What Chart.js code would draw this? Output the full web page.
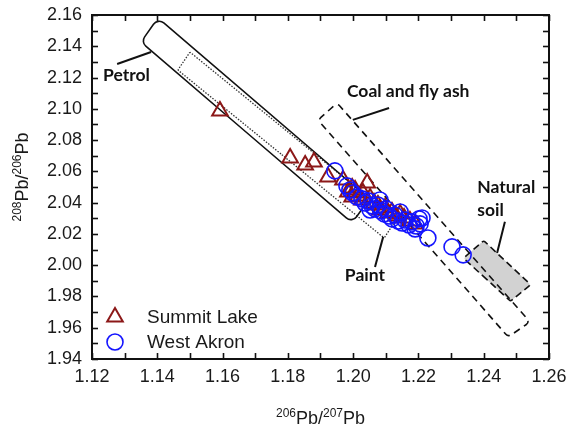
<!DOCTYPE html>
<html><head><meta charset="utf-8">
<script src="https://cdn.jsdelivr.net/npm/chart.js@4.4.1/dist/chart.umd.min.js"></script>
<style>html,body{margin:0;padding:0;background:#fff;}canvas{display:block;}</style>
</head><body>
<canvas id="c" width="569" height="430"></canvas>
<script>
// ---- data ----
const xTickValues = [1.12, 1.14, 1.16, 1.18, 1.20, 1.22, 1.24, 1.26];
const xTickLabels = ['1.12', '1.14', '1.16', '1.18', '1.20', '1.22', '1.24', '1.26'];
const yTickValues = [1.94, 1.96, 1.98, 2.00, 2.02, 2.04, 2.06, 2.08, 2.10, 2.12, 2.14, 2.16];
const yTickLabels = ['1.94', '1.96', '1.98', '2.00', '2.02', '2.04', '2.06', '2.08', '2.10', '2.12', '2.14', '2.16'];

const seriesNames = ['Summit Lake', 'West Akron'];

const summitLakeX = [1.1592, 1.1807, 1.1853, 1.1880, 1.1923, 1.1969, 1.2006, 1.2043, 1.2030, 1.1984, 1.1997, 1.2015, 1.2027,
  1.2052, 1.2064, 1.2076, 1.2082, 1.2098, 1.2107, 1.2119, 1.2131, 1.2144, 1.2156, 1.2174, 1.2190, 1.1997];
const summitLakeY = [2.0986, 2.0686, 2.0641, 2.0660, 2.0564, 2.0545, 2.0481, 2.0526, 2.0462, 2.0468, 2.0436, 2.0443, 2.0417,
  2.0430, 2.0398, 2.0385, 2.0353, 2.0366, 2.0334, 2.0340, 2.0315, 2.0328, 2.0302, 2.0283, 2.0264, 2.0494];

const westAkronX = [1.1944, 1.1981, 1.1990, 1.1999, 1.2012, 1.2027, 1.2036, 1.2046, 1.2058, 1.2067, 1.2076, 1.2085, 1.2095,
  1.2101, 1.2110, 1.2119, 1.2128, 1.2138, 1.2150, 1.2159, 1.2171, 1.2180, 1.2193, 1.2202, 1.2211, 1.2205, 1.2190, 1.2229,
  1.2303, 1.2337, 1.2052, 1.2082, 1.2144];
const westAkronY = [2.0603, 2.0507, 2.0481, 2.0462, 2.0436, 2.0424, 2.0398, 2.0411, 2.0379, 2.0360, 2.0385, 2.0347, 2.0328,
  2.0360, 2.0315, 2.0296, 2.0321, 2.0283, 2.0270, 2.0289, 2.0257, 2.0277, 2.0251, 2.0296, 2.0302, 2.0264, 2.0232, 2.0174,
  2.0117, 2.0066, 2.0353, 2.0417, 2.0340];

// source fields (corners in data units)
const petrolBox = [[1.1350, 2.1427], [1.1402, 2.1581], [1.2049, 2.0424], [1.1997, 2.0270]];
const paintBox = [[1.1463, 2.1248], [1.1500, 2.1363], [1.2131, 2.0289], [1.2095, 2.0174]];
const coalBox = [[1.1892, 2.0929], [1.1951, 2.1037], [1.2542, 1.9637], [1.2475, 1.9541]];
const soilBox = [[1.2338, 2.0045], [1.2400, 2.0157], [1.2544, 1.9875], [1.2482, 1.9770]];

const petrolLeader = [[1.1277, 2.1287], [1.1381, 2.1363]];
const coalLeader = [[1.1999, 2.0929], [1.2110, 2.1005]];
const paintLeader = [[1.2092, 2.0181], [1.2067, 1.9989]];
const soilLeader = [[1.2465, 2.0277], [1.2441, 2.0078]];

const fieldLabels = [
  { text: 'Petrol', at: [1.1234, 2.1216], align: 'left' },
  { text: 'Coal and fly ash', at: [1.1981, 2.1114], align: 'left' },
  { text: 'Paint', at: [1.2036, 1.9938], align: 'center' },
  { text: 'Natural', at: [1.2380, 2.0500], align: 'left' },
  { text: 'soil', at: [1.2380, 2.0353], align: 'left' }
];

// ---- styling ----
const RED = 'rgb(140,24,24)';
const BLUE = 'rgb(20,20,255)';

const toPts = (xs, ys) => xs.map((x, i) => ({ x: x, y: ys[i] }));

function px(chart, p) {
  return [chart.scales.x.getPixelForValue(p[0]), chart.scales.y.getPixelForValue(p[1])];
}
function roundPoly(ctx, pts, r) {
  const n = pts.length;
  ctx.beginPath();
  ctx.moveTo((pts[n - 1][0] + pts[0][0]) / 2, (pts[n - 1][1] + pts[0][1]) / 2);
  for (let i = 0; i < n; i++) {
    const p = pts[i], q = pts[(i + 1) % n];
    ctx.arcTo(p[0], p[1], q[0], q[1], r);
  }
  ctx.closePath();
}
function line(ctx, a, b) {
  ctx.beginPath(); ctx.moveTo(a[0], a[1]); ctx.lineTo(b[0], b[1]); ctx.stroke();
}
function supText(ctx, parts, cx, cy, big, small) {
  let w = 0;
  parts.forEach(p => {
    ctx.font = (p.sup ? small : big) + 'px "Liberation Sans", Arial, sans-serif';
    p.w = ctx.measureText(p.t).width; w += p.w;
  });
  let x = cx - w / 2;
  ctx.textAlign = 'left';
  ctx.textBaseline = 'alphabetic';
  parts.forEach(p => {
    ctx.font = (p.sup ? small : big) + 'px "Liberation Sans", Arial, sans-serif';
    ctx.fillText(p.t, x, cy + big * 0.36 - (p.sup ? big * 0.42 : 0));
    x += p.w;
  });
}

const decor = {
  id: 'decor',
  beforeDatasetsDraw(chart) {
    const ctx = chart.ctx;
    ctx.save();
    // natural soil
    const s = soilBox.map(p => px(chart, p));
    roundPoly(ctx, s, 2);
    ctx.fillStyle = '#d2d2d2'; ctx.fill();
    ctx.setLineDash([7, 4]); ctx.lineWidth = 1.6; ctx.strokeStyle = '#111'; ctx.stroke();
    // coal
    const c = coalBox.map(p => px(chart, p));
    roundPoly(ctx, c, 4);
    ctx.setLineDash([7, 5]); ctx.lineWidth = 1.6; ctx.stroke();
    // paint
    const pa = paintBox.map(p => px(chart, p));
    roundPoly(ctx, pa, 1);
    ctx.setLineDash([1.5, 1.5]); ctx.lineWidth = 1.3; ctx.strokeStyle = '#333'; ctx.stroke();
    // petrol
    const pe = petrolBox.map(p => px(chart, p));
    roundPoly(ctx, pe, 7);
    ctx.setLineDash([]); ctx.lineWidth = 1.6; ctx.strokeStyle = '#111'; ctx.stroke();
    // leaders
    ctx.lineWidth = 2;
    [petrolLeader, coalLeader, paintLeader, soilLeader].forEach(l => line(ctx, px(chart, l[0]), px(chart, l[1])));
    // labels
    ctx.fillStyle = '#111';
    ctx.font = 'bold 17.5px Lato, "Open Sans", sans-serif';
    ctx.textBaseline = 'middle';
    fieldLabels.forEach(f => {
      const p = px(chart, f.at);
      ctx.textAlign = f.align;
      ctx.fillText(f.text, p[0], p[1]);
    });
    ctx.restore();
  },
  afterDraw(chart) {
    const ctx = chart.ctx, a = chart.chartArea;
    const xs = chart.scales.x, ys = chart.scales.y;
    ctx.save();
    ctx.strokeStyle = '#111';
    ctx.lineWidth = 1.6;
    // ticks (inward, all four sides, every 0.01)
    for (let i = 112; i <= 126; i++) {
      const x = Math.round(xs.getPixelForValue(i / 100)) + 0.5;
      line(ctx, [x, a.bottom], [x, a.bottom - 6]);
      line(ctx, [x, a.top], [x, a.top + 6]);
    }
    for (let i = 194; i <= 216; i++) {
      const y = Math.round(ys.getPixelForValue(i / 100)) + 0.5;
      line(ctx, [a.left, y], [a.left + 6, y]);
      line(ctx, [a.right, y], [a.right - 6, y]);
    }
    ctx.lineWidth = 2;
    ctx.strokeRect(a.left, a.top, a.right - a.left, a.bottom - a.top);
    // axis titles
    ctx.fillStyle = '#1a1a1a';
    supText(ctx, [{ t: '206', sup: true }, { t: 'Pb/' }, { t: '207', sup: true }, { t: 'Pb' }], (a.left + a.right) / 2, 418, 18, 12);
    ctx.save();
    ctx.translate(22, 177);
    ctx.rotate(-Math.PI / 2);
    supText(ctx, [{ t: '208', sup: true }, { t: 'Pb/' }, { t: '206', sup: true }, { t: 'Pb' }], 0, 0, 18, 12);
    ctx.restore();
    // legend
    const ds = chart.data.datasets;
    const rows = [[115, 317], [115, 342]];
    ds.forEach((d) => {
      const [lx, ly] = rows[d.legendRow];
      ctx.strokeStyle = d.borderColor; ctx.lineWidth = d.borderWidth;
      ctx.beginPath();
      if (d.pointStyle === 'triangle') {
        const r = d.pointRadius;
        ctx.moveTo(lx, ly - r); ctx.lineTo(lx + r * 0.866, ly + r * 0.5); ctx.lineTo(lx - r * 0.866, ly + r * 0.5); ctx.closePath();
      } else {
        ctx.arc(lx, ly, d.pointRadius, 0, Math.PI * 2);
      }
      ctx.stroke();
      ctx.fillStyle = '#1a1a1a';
      ctx.font = '19px "Liberation Sans", Arial, sans-serif';
      ctx.textAlign = 'left'; ctx.textBaseline = 'middle';
      ctx.fillText(d.label, 147, ly + 1);
    });
    ctx.restore();
  }
};

const hiddenGrid = (len) => ({ display: true, drawOnChartArea: false, drawTicks: true, tickLength: len, color: 'rgba(0,0,0,0)' });

new Chart(document.getElementById('c'), {
  type: 'scatter',
  data: {
    datasets: [
      { label: seriesNames[0], data: toPts(summitLakeX, summitLakeY), pointStyle: 'triangle', pointRadius: 9,
        borderColor: RED, backgroundColor: 'rgba(0,0,0,0)', borderWidth: 2, order: 2, legendRow: 0 },
      { label: seriesNames[1], data: toPts(westAkronX, westAkronY), pointStyle: 'circle', pointRadius: 8,
        borderColor: BLUE, backgroundColor: 'rgba(0,0,0,0)', borderWidth: 1.6, order: 1, legendRow: 1 }
    ]
  },
  options: {
    responsive: false,
    animation: false,
    devicePixelRatio: 1,
    layout: { padding: { top: 15, right: 20, left: 0, bottom: 0 } },
    plugins: { legend: { display: false }, tooltip: { enabled: false } },
    scales: {
      x: {
        type: 'linear', min: 1.12, max: 1.26,
        afterBuildTicks: s => { s.ticks = xTickValues.map(v => ({ value: v })); },
        ticks: { callback: (v, i) => xTickLabels[i], font: { family: '"Liberation Sans", Arial', size: 18 }, color: '#1a1a1a', padding: 0, maxRotation: 0, autoSkip: false },
        grid: hiddenGrid(7), border: { display: false },
        afterFit: s => { s.height = 71; }
      },
      y: {
        type: 'linear', min: 1.94, max: 2.16,
        afterBuildTicks: s => { s.ticks = yTickValues.map(v => ({ value: v })); },
        ticks: { callback: (v, i) => yTickLabels[i], font: { family: '"Liberation Sans", Arial', size: 18 }, color: '#1a1a1a', padding: 0, autoSkip: false },
        grid: hiddenGrid(10), border: { display: false },
        afterFit: s => { s.width = 92; }
      }
    }
  },
  plugins: [decor]
});
</script>
</body></html>
